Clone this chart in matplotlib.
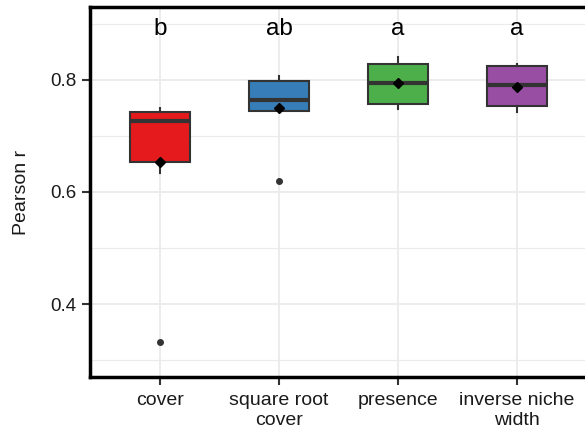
import matplotlib
matplotlib.use("Agg")
import matplotlib.pyplot as plt
from matplotlib.ticker import MultipleLocator

plt.rcParams.update({
    "font.family": ["Liberation Sans", "DejaVu Sans"],
})

# Box statistics
categories = ["cover", "square root\ncover", "presence", "inverse niche\nwidth"]
q1 = [0.654, 0.745, 0.757, 0.753]
med = [0.727, 0.764, 0.794, 0.791]
q3 = [0.743, 0.798, 0.829, 0.824]
whislo = [0.634, 0.745, 0.748, 0.742]
whishi = [0.750, 0.807, 0.841, 0.828]
means = [0.654, 0.750, 0.794, 0.788]
fliers = [[0.333], [0.620], [], []]
letters = ["b", "ab", "a", "a"]
letter_y = 0.880
colors = ["#E41A1C", "#377EB8", "#4DAF4A", "#984EA3"]

fig = plt.figure(figsize=(5.85, 4.36), dpi=100)
# right edge pushed just past the figure, like the cropped original
ax = fig.add_axes([90 / 585, 1 - 377 / 436, 500 / 585, 370 / 436])

stats = []
for i in range(len(categories)):
    stats.append({
        "q1": q1[i], "med": med[i], "q3": q3[i],
        "whislo": whislo[i], "whishi": whishi[i],
        "mean": means[i], "fliers": fliers[i],
    })

positions = list(range(1, len(categories) + 1))
bp = ax.bxp(
    stats, positions=positions, widths=0.5, patch_artist=True,
    showmeans=True, showcaps=False,
    boxprops=dict(edgecolor="#333333", linewidth=1.5),
    medianprops=dict(color="#333333", linewidth=3),
    whiskerprops=dict(color="#333333", linewidth=1.5),
    flierprops=dict(marker="o", markerfacecolor="#333333", markeredgecolor="#333333", markersize=4),
    meanprops=dict(marker="D", markerfacecolor="black", markeredgecolor="black", markersize=5),
    zorder=3,
)
for patch, c in zip(bp["boxes"], colors):
    patch.set_facecolor(c)

for x, lab in zip(positions, letters):
    ax.text(x, letter_y, lab, ha="center", va="baseline", fontsize=17.5, color="black")

ax.set_xlim(0.412, 4.613)
ax.set_ylim(0.27, 0.93)
ax.set_xticks(positions)
ax.set_xticklabels(categories, fontsize=14, color="#1a1a1a")
ax.yaxis.set_minor_locator(MultipleLocator(0.1))
ax.set_yticks([0.4, 0.6, 0.8])
ax.set_yticklabels(["0.4", "0.6", "0.8"], fontsize=13.5, color="#1a1a1a")
ax.set_ylabel("Pearson r", fontsize=14, color="#1a1a1a", labelpad=14)

ax.grid(True, which="major", color="#EBEBEB", linewidth=1.3, zorder=0)
ax.grid(True, which="minor", axis="y", color="#EBEBEB", linewidth=0.8, zorder=0)
ax.set_axisbelow(True)
ax.tick_params(axis="both", which="major", length=6, width=1.5, color="#333333", pad=4)
ax.tick_params(axis="x", which="major", pad=5)
ax.tick_params(axis="y", which="minor", length=0)

for side in ["left", "bottom", "top"]:
    ax.spines[side].set_linewidth(2.5)
    ax.spines[side].set_color("black")
ax.spines["right"].set_visible(False)

fig.savefig("out.png", dpi=100)
